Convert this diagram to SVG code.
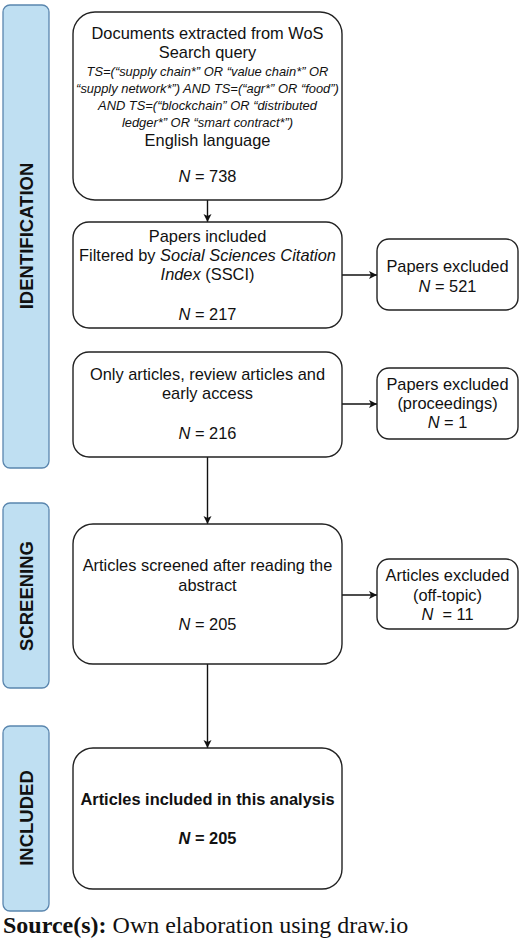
<svg xmlns="http://www.w3.org/2000/svg" width="520" height="941" viewBox="0 0 520 941">
<style>
.bar{fill:#bfdff2;stroke:#5a86ae;stroke-width:1.3}
.box{fill:#fff;stroke:#222;stroke-width:1.4}
.t{font-family:"Liberation Sans",Arial,sans-serif;font-size:16.4px;fill:#111;text-anchor:middle}
.q{font-family:"Liberation Sans",Arial,sans-serif;font-size:12.9px;font-style:italic;fill:#111;text-anchor:middle}
.lab{font-family:"Liberation Sans",Arial,sans-serif;font-size:18.5px;font-weight:bold;fill:#111;text-anchor:middle}
.b{font-weight:bold}
.i{font-style:italic}
.c{stroke:#111;stroke-width:1.4;fill:none;marker-end:url(#ah)}
</style>
<defs>
<marker id="ah" markerWidth="10" markerHeight="10" refX="9" refY="5" orient="auto" markerUnits="userSpaceOnUse">
<path d="M1,1 L9,5 L1,9 L3,5 Z" fill="#111"/>
</marker>
</defs>
<rect width="520" height="941" fill="#fff"/>
<g id="phase-identification">
<rect class="bar" x="3" y="5" width="46" height="463" rx="7"/>
<text class="lab" transform="translate(33,236) rotate(-90)">IDENTIFICATION</text>
</g>
<g id="phase-screening">
<rect class="bar" x="3" y="503" width="46" height="185" rx="7"/>
<text class="lab" transform="translate(33,596) rotate(-90)">SCREENING</text>
</g>
<g id="phase-included">
<rect class="bar" x="3" y="726" width="46" height="185" rx="7"/>
<text class="lab" transform="translate(33,818) rotate(-90)">INCLUDED</text>
</g>
<g id="connectors">
<line class="c" x1="207.5" y1="200" x2="207.5" y2="222"/>
<line class="c" x1="342" y1="275" x2="377" y2="275"/>
<line class="c" x1="342" y1="404" x2="377" y2="404"/>
<line class="c" x1="207.5" y1="457" x2="207.5" y2="524"/>
<line class="c" x1="342" y1="595" x2="377" y2="595"/>
<line class="c" x1="207.5" y1="664" x2="207.5" y2="748"/>
</g>
<g id="n-documents">
<rect class="box" x="73" y="12" width="269" height="188" rx="22"/>
<text class="t" x="207.5" y="39">Documents extracted from WoS</text>
<text class="t" x="207.5" y="58">Search query</text>
<text class="q" x="207.5" y="76">TS=(“supply chain*” OR “value chain*” OR</text>
<text class="q" x="207.5" y="93">“supply network*”) AND TS=(“agr*” OR “food”)</text>
<text class="q" x="207.5" y="110">AND TS=(“blockchain” OR “distributed</text>
<text class="q" x="207.5" y="127">ledger*” OR “smart contract*”)</text>
<text class="t" x="207.5" y="146">English language</text>
<text class="t" x="207.5" y="182"><tspan class="i">N</tspan> = 738</text>
</g>
<g id="n-papers-included">
<rect class="box" x="73" y="222" width="269" height="106" rx="16"/>
<text class="t" x="207.5" y="242">Papers included</text>
<text class="t" x="207.5" y="261">Filtered by <tspan class="i">Social Sciences Citation</tspan></text>
<text class="t" x="207.5" y="280"><tspan class="i">Index</tspan> (SSCI)</text>
<text class="t" x="207.5" y="320"><tspan class="i">N</tspan> = 217</text>
</g>
<g id="n-excluded-521">
<rect class="box" x="377" y="239" width="141" height="71" rx="12"/>
<text class="t" x="447.5" y="272">Papers excluded</text>
<text class="t" x="447.5" y="292"><tspan class="i">N</tspan> = 521</text>
</g>
<g id="n-articles">
<rect class="box" x="73" y="352" width="269" height="105" rx="16"/>
<text class="t" x="207.5" y="380">Only articles, review articles and</text>
<text class="t" x="207.5" y="399">early access</text>
<text class="t" x="207.5" y="439"><tspan class="i">N</tspan> = 216</text>
</g>
<g id="n-excluded-proceedings">
<rect class="box" x="377" y="368" width="141" height="71" rx="12"/>
<text class="t" x="447.5" y="390">Papers excluded</text>
<text class="t" x="447.5" y="409">(proceedings)</text>
<text class="t" x="447.5" y="428"><tspan class="i">N</tspan> = 1</text>
</g>
<g id="n-screened">
<rect class="box" x="73" y="524" width="269" height="140" rx="20"/>
<text class="t" x="207.5" y="571">Articles screened after reading the</text>
<text class="t" x="207.5" y="591">abstract</text>
<text class="t" x="207.5" y="630"><tspan class="i">N</tspan> = 205</text>
</g>
<g id="n-excluded-offtopic">
<rect class="box" x="377" y="559" width="141" height="70" rx="12"/>
<text class="t" x="447.5" y="581">Articles excluded</text>
<text class="t" x="447.5" y="601">(off-topic)</text>
<text class="t" x="447.5" y="620" xml:space="preserve"><tspan class="i">N</tspan>  = 11</text>
</g>
<g id="n-included">
<rect class="box" x="73" y="748" width="269" height="141" rx="20"/>
<text class="t b" x="207.5" y="805">Articles included in this analysis</text>
<text class="t b" x="207.5" y="844"><tspan class="i">N</tspan> = 205</text>
</g>
<text x="3" y="933" font-family="'Liberation Serif','Times New Roman',serif" font-size="24" fill="#111"><tspan font-weight="bold">Source(s):</tspan> Own elaboration using draw.io</text>
</svg>
